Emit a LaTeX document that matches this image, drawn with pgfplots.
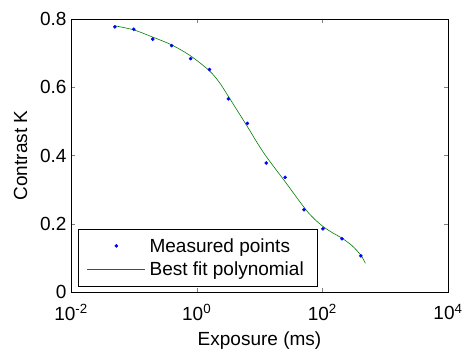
\documentclass[border=0pt]{standalone}
\usepackage{fontspec}
\setmainfont{Liberation Sans}
\usepackage{pgfplots}
\pgfplotsset{compat=1.18}
\pgfplotsset{
  mylegline/.style={legend image code/.code={\draw[##1] (0pt,0pt) -- (58pt,0pt);}},
  mylegmark/.style={legend image code/.code={\draw[mark repeat=2,mark phase=2,##1] plot coordinates {(0pt,0pt) (29pt,0pt) (58pt,0pt)};}},
}
\begin{document}
\begin{tikzpicture}
\begin{axis}[
  name=ax,
  xmode=log, scale only axis, width=377pt, height=273pt,
  xmin=0.01, xmax=10000, ymin=0, ymax=0.8,
  xtick={0.01,1,100,10000}, xminorticks=false,
  xticklabels={10\textsuperscript{-2},10\textsuperscript{0},10\textsuperscript{2},10\textsuperscript{4}},
  ytick={0,0.2,0.4,0.6,0.8},
  yticklabels={0,0.2,0.4,0.6,0.8},
  tick align=inside, tick pos=both,
  major tick length=4pt,
  axis line style={line width=0.6pt},
  font=\fontsize{19}{22}\selectfont,
  tick label style={font=\fontsize{19}{22}\selectfont},
  xticklabel style={yshift=-9pt},
  yticklabel style={xshift=-1pt},
  /pgf/number format/assume math mode=true,
  xlabel={Exposure (ms)}, ylabel={Contrast K},
  xlabel style={yshift=-5pt}, ylabel style={yshift=6pt},
  legend style={at={(0.018,0.022)}, anchor=south west, draw=black, font=\fontsize{19}{22}\selectfont, row sep=4pt, inner xsep=9pt, inner ysep=7pt,
    nodes={inner xsep=4pt}},
  legend cell align=left,
]
\addplot[only marks, mark=*, mark size=1.6pt, color=blue, mylegmark] coordinates {
(0.05,0.777) (0.1,0.770) (0.2,0.741) (0.4,0.722) (0.8,0.684) (1.6,0.652)
(3.2,0.566) (6.4,0.494) (12.8,0.378) (25.6,0.336) (51.2,0.241) (102.4,0.185)
(204.8,0.156) (409.6,0.106)
};
\addlegendentry{Measured points}
\addplot[color={rgb,255:red,0;green,128;blue,0}, smooth, line width=0.6pt, mylegline] coordinates {
(0.05,0.780) (0.1,0.768) (0.2,0.747) (0.4,0.724) (0.8,0.692) (1.6,0.648)
(2.3,0.614) (3.2,0.573) (6.4,0.485) (9,0.440) (12.8,0.397) (25.6,0.323)
(51.2,0.248) (70,0.219) (102.4,0.192) (150,0.172) (204.8,0.158) (300,0.135)
(409.6,0.108) (485,0.084)
};
\addlegendentry{Best fit polynomial}
\end{axis}
\pgfresetboundingbox
\useasboundingbox ([xshift=-71pt,yshift=-57pt]ax.south west) rectangle ([xshift=14pt,yshift=19pt]ax.north east);
\end{tikzpicture}
\end{document}
